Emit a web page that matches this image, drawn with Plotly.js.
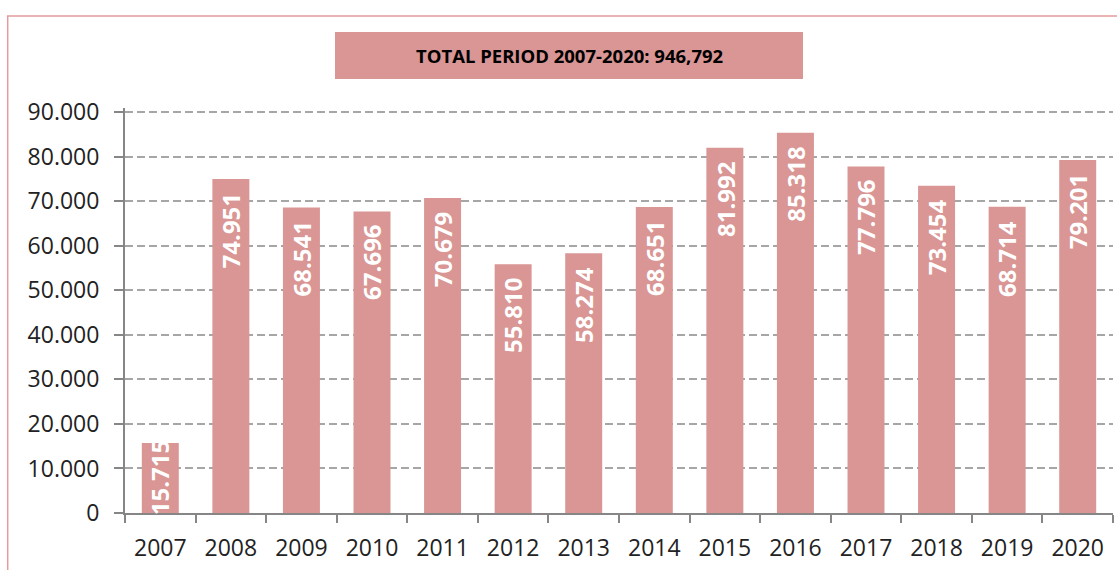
<!DOCTYPE html>
<html>
<head>
<meta charset="utf-8">
<script src="https://cdn.plot.ly/plotly-3.0.1.min.js"></script>
<style>
  html, body { margin: 0; padding: 0; background: #ffffff; }
  #chart { width: 1117px; height: 570px; }
</style>
</head>
<body>
<div id="chart"></div>
<script>
// ---- data ----
const years = ['2007','2008','2009','2010','2011','2012','2013','2014','2015','2016','2017','2018','2019','2020'];
const values = [15715, 74951, 68541, 67696, 70679, 55810, 58274, 68651, 81992, 85318, 77796, 73454, 68714, 79201];
const titleText = 'TOTAL PERIOD 2007-2020: 946,792';
const yTickVals = [0, 10000, 20000, 30000, 40000, 50000, 60000, 70000, 80000, 90000];

// ---- styling ----
const BAR = '#D99694';
const AXIS = '#868686';
const GRID = '#A6A6A6';
const TXT = '#222222';
const FONT = 'Open Sans, Noto Sans, sans-serif';

const W = 1117, H = 570;
const M = { l: 125, r: 4, t: 108, b: 57 };
const PW = W - M.l - M.r, PH = H - M.t - M.b;
const YTOP = 90898;

function fmt(v) { return String(v).replace(/\B(?=(\d{3})+(?!\d))/g, '.'); }
function py(pixY) { return (H - M.b - pixY) / PH; }
function px(pixX) { return (pixX - M.l) / PW; }

const labelLenPx = 80;
const annotations = years.map((yr, i) => {
  const v = values[i];
  const fits = v / YTOP * PH > labelLenPx + 20;
  return {
    xref: 'x', yref: 'y', x: i,
    y: fits ? v : v / 2,
    yanchor: fits ? 'top' : 'middle',
    xanchor: 'center',
    yshift: fits ? -12 : 0,
    text: fmt(v),
    textangle: -90,
    showarrow: false,
    font: { family: FONT, size: 24, color: '#ffffff', weight: 'bold' }
  };
});

// title box text
annotations.push({
  xref: 'paper', yref: 'paper',
  x: px(569), y: py(56),
  xanchor: 'center', yanchor: 'middle',
  text: '<b>' + titleText + '</b>',
  showarrow: false,
  font: { family: FONT, size: 18.5, color: '#000000' }
});

const shapes = [
  // outer chart border
  {
    type: 'rect', xref: 'paper', yref: 'paper',
    x0: px(7.7), x1: px(1125),
    y0: py(580), y1: py(16),
    line: { color: '#E59C9C', width: 1.5 }, fillcolor: 'rgba(0,0,0,0)', layer: 'below'
  },
  // title box
  {
    type: 'rect', xref: 'paper', yref: 'paper',
    x0: px(335), x1: px(803),
    y0: py(79), y1: py(32),
    line: { width: 0 }, fillcolor: BAR, layer: 'below'
  }
];

const trace = {
  type: 'bar',
  x: years,
  y: values,
  marker: { color: BAR, line: { width: 0 } },
  hoverinfo: 'x+y'
};

const layout = {
  width: W, height: H,
  margin: M,
  paper_bgcolor: '#ffffff',
  plot_bgcolor: '#ffffff',
  separators: ',.',
  showlegend: false,
  bargap: 0.476,
  font: { family: FONT, color: TXT },
  xaxis: {
    type: 'category',
    range: [-0.5, years.length - 0.5],
    tickson: 'boundaries',
    ticks: 'outside', ticklen: 8, tickwidth: 2, tickcolor: AXIS,
    showline: true, linecolor: AXIS, linewidth: 2,
    showgrid: false,
    tickangle: 0,
    tickfont: { family: FONT, size: 23, color: TXT },
    ticklabelstandoff: 13,
    fixedrange: true
  },
  yaxis: {
    range: [0, YTOP],
    tickvals: yTickVals,
    tickformat: ',d',
    ticks: 'outside', ticklen: 9, tickwidth: 2, tickcolor: AXIS,
    showline: true, linecolor: AXIS, linewidth: 2,
    showgrid: true, gridcolor: GRID, gridwidth: 2, griddash: '8px,4px',
    zeroline: false,
    tickfont: { family: FONT, size: 23, color: TXT },
    ticklabelstandoff: 10,
    fixedrange: true
  },
  shapes: shapes,
  annotations: annotations
};

Plotly.newPlot('chart', [trace], layout, { displayModeBar: false, staticPlot: true });
</script>
</body>
</html>
